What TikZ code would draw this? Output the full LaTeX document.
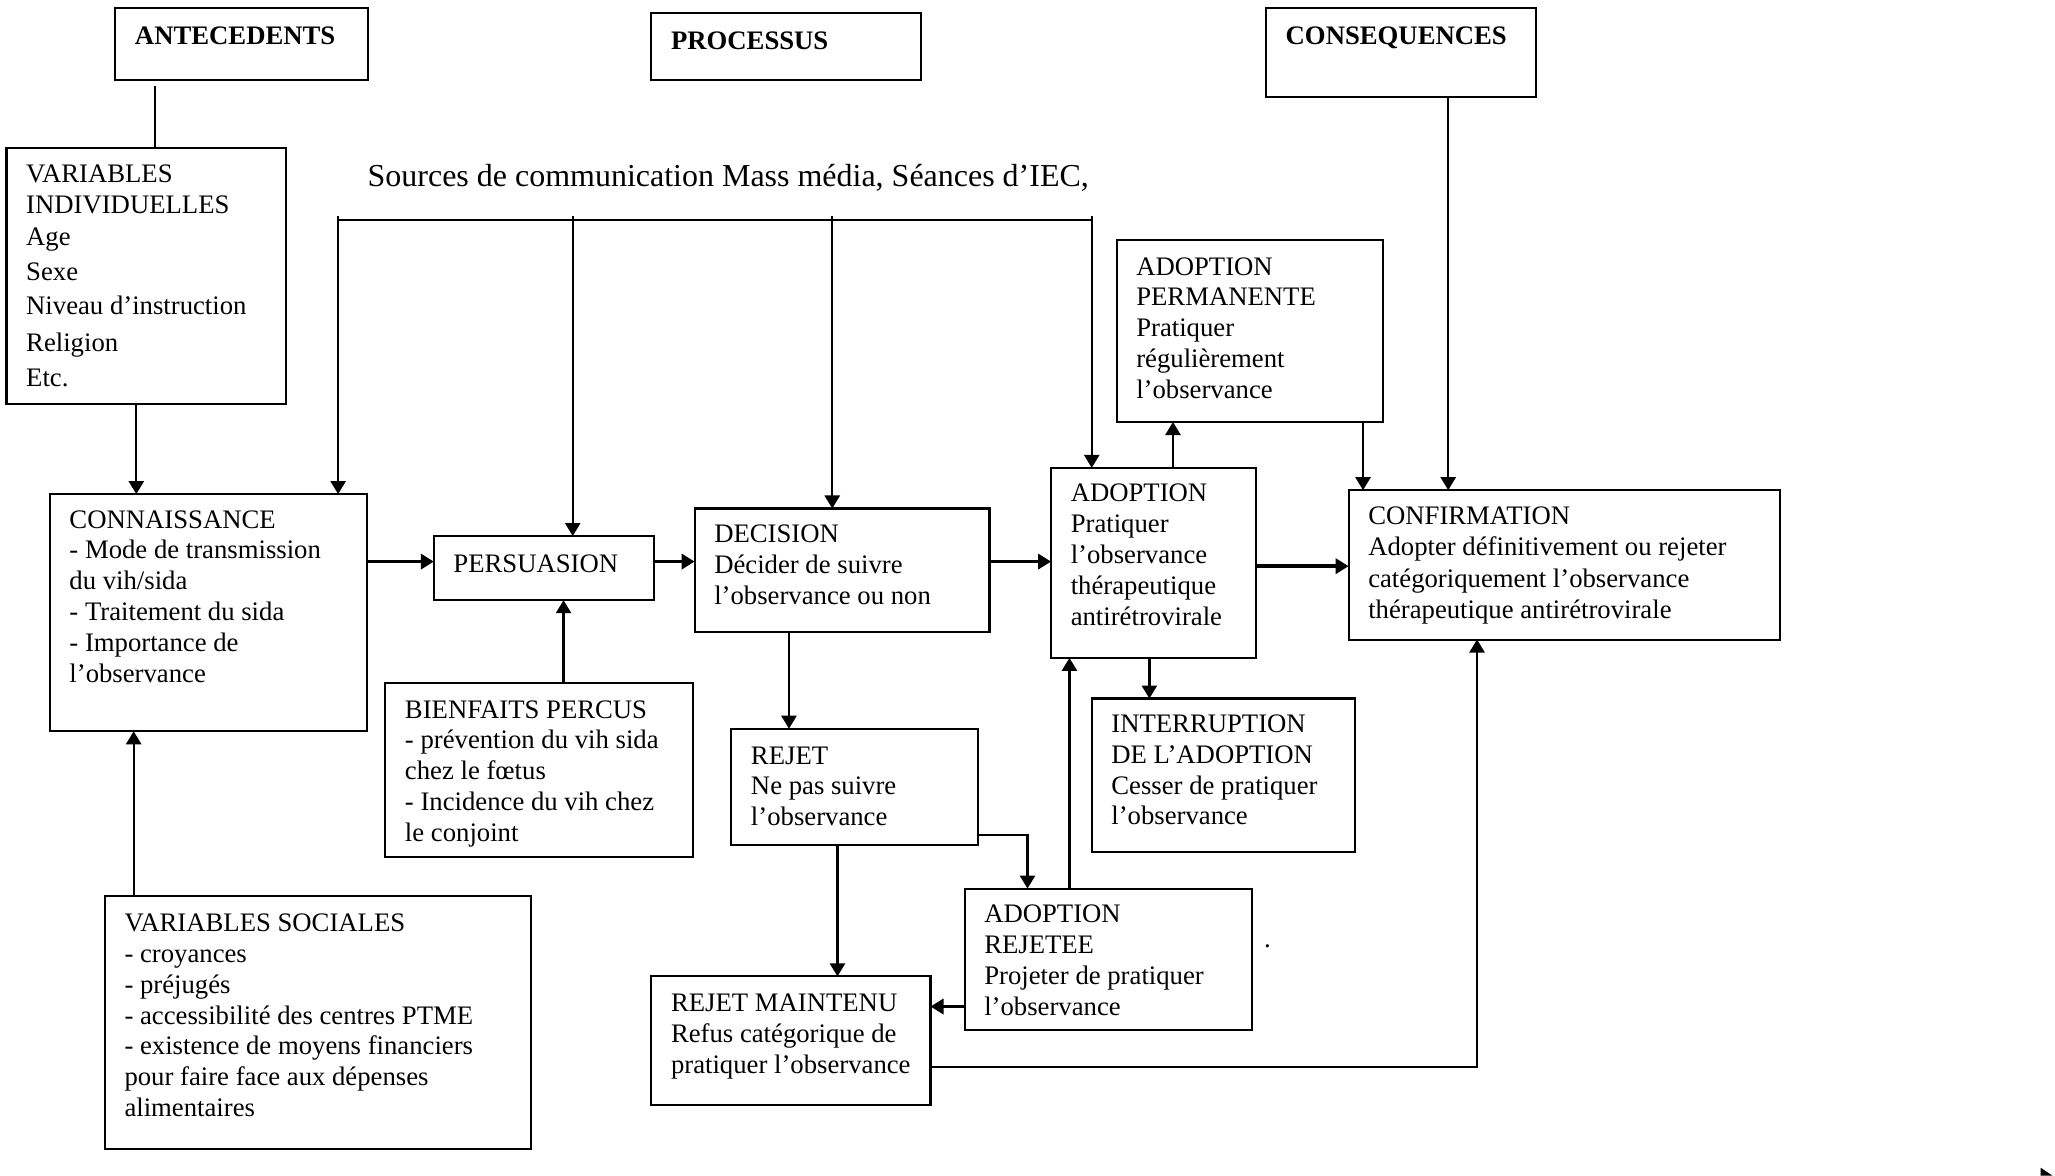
\documentclass[tikz,border=0pt]{standalone}
\usepackage{fontspec}
\setmainfont{Liberation Serif}
\usetikzlibrary{arrows.meta,calc}

% one drawing unit
\newlength\dx
\setlength\dx{0.013106cm}

% box contents: [first-baseline offset]{width}{height}{text}
\newcommand\inbox[4][26]{%
  \parbox[t][#3\dx][t]{\dimexpr #2\dx-30\dx\relax}{\raggedright\rule{0pt}{#1\dx}#4}}

\begin{document}
\begin{tikzpicture}[x=0.013106cm, y=-0.013106cm,
  bodyfont/.style={font=\fontsize{7.6}{8.76}\selectfont},
  panel/.style={draw, line width=0.6pt, anchor=north west, outer sep=0pt,
    inner xsep=15\dx, inner ysep=0pt, bodyfont},
  headpanel/.style={panel, font=\fontsize{7.6}{8.76}\selectfont\bfseries},
  plain/.style={line width=0.65pt},
  arr/.style={line width=0.65pt, -{Triangle[length=3.7pt,width=4.3pt]}},
  thk/.style={line width=0.95pt, -{Triangle[length=3.7pt,width=4.3pt]}}]

\useasboundingbox (0,0) rectangle (1568,897);

% headings
\node[headpanel] (ant)  at (88,6)  {\inbox[28]{193}{55}{ANTECEDENTS}};
\node[headpanel] (proc) at (497,10) {\inbox[28]{206}{51}{PROCESSUS}};
\node[headpanel] (cons) at (966,6) {\inbox[28]{206}{68}{CONSEQUENCES}};

% communication sources
\node[font=\fontsize{9.1}{11}\selectfont, anchor=base west, inner sep=0pt] (src)
  at (280,142.5) {Sources de communication Mass média, Séances d’IEC,};

% boxes
\node[panel, font=\fontsize{7.6}{8.95}\selectfont] (vi) at (5,113)
  {\inbox{213}{195}{VARIABLES\\INDIVIDUELLES\\Age\\[3\dx]Sexe\\[2\dx]Niveau d’instruction\\[4\dx]Religion\\[3\dx]Etc.}};
\node[panel] (conn) at (38,377)
  {\inbox{242}{181}{CONNAISSANCE\\- Mode de transmission\\du vih/sida\\- Traitement du sida\\- Importance de\\l’observance}};
\node[panel] (pers) at (331,409)
  {\inbox[28]{168}{49}{PERSUASION}};
\node[panel] (dec) at (530,388)
  {\inbox{225}{94}{DECISION\\Décider de suivre\\l’observance ou non}};
\node[panel] (adop) at (802,357)
  {\inbox{156}{145}{ADOPTION\\Pratiquer\\l’observance\\thérapeutique\\antirétrovirale}};
\node[panel] (perm) at (852,183)
  {\inbox[27]{203}{139}{ADOPTION\\PERMANENTE\\Pratiquer\\régulièrement\\l’observance}};
\node[panel, font=\fontsize{7.6}{8.95}\selectfont] (conf) at (1029,374)
  {\inbox{329}{114}{CONFIRMATION\\Adopter définitivement ou rejeter\\catégoriquement l’observance\\thérapeutique antirétrovirale}};
\node[panel] (bien) at (294,521)
  {\inbox[27]{235}{133}{BIENFAITS PERCUS\\- prévention du vih sida\\chez le fœtus\\- Incidence du vih chez\\le conjoint}};
\node[panel] (rej) at (558,556)
  {\inbox[27]{188}{89}{REJET\\Ne pas suivre\\l’observance}};
\node[panel] (int) at (833,533)
  {\inbox{201}{117}{INTERRUPTION\\DE L’ADOPTION\\Cesser de pratiquer\\l’observance}};
\node[panel] (ar) at (736,678)
  {\inbox{219}{108}{ADOPTION\\REJETEE\\Projeter de pratiquer\\l’observance}};
\node[panel] (rm) at (497,745)
  {\inbox[27]{213}{98}{REJET MAINTENU\\Refus catégorique de\\pratiquer~l’observance}};
\node[panel] (vs) at (80,684)
  {\inbox[27]{325}{193}{VARIABLES SOCIALES\\- croyances\\- préjugés\\- accessibilité des centres PTME\\- existence de moyens financiers\\pour faire face aux dépenses\\alimentaires}};

% stray full stop beside the rejected-adoption box
\node[bodyfont, anchor=base, inner sep=0pt] (dot) at (967,723) {.};

% connector anchor points
\coordinate (c1)  at ($(ant.south west)+(30,0)$);
\coordinate (c2)  at ($(vi.south west)+(99,0)$);
\coordinate (c4)  at ($(pers.west)+(0,-5)$);
\coordinate (c7)  at ($(adop.east)+(0,2.5)$);
\coordinate (c8)  at ($(bien.north west)+(136,0)$);
\coordinate (c9)  at ($(vs.north west)+(22,0)$);
\coordinate (c10) at ($(dec.south west)+(72,0)$);
\coordinate (c11) at ($(rej.south west)+(81,0)$);
\coordinate (c12) at ($(rej.south east)+(0,-8)$);
\coordinate (c12b) at ($(ar.north west)+(48,0)$);
\coordinate (c13) at ($(ar.north west)+(80,0)$);
\coordinate (c14) at ($(ar.south west)+(0,-18)$);
\coordinate (c15) at ($(rm.south east)+(0,-29)$);
\coordinate (c15b) at ($(conf.south west)+(98,0)$);
\coordinate (c16) at ($(adop.north west)+(93,0)$);
\coordinate (c17) at ($(adop.south west)+(75,0)$);
\coordinate (c18) at ($(perm.south west)+(188,0)$);
\coordinate (c19) at ($(cons.south west)+(139,0)$);

% sources bus
\coordinate (bus1) at (258,168);
\coordinate (bus2) at (437,168);
\coordinate (bus3) at (635,168);
\coordinate (bus4) at (833,168);
\draw[plain] (bus1) -- (bus4);
\draw[arr] ([yshift=3\dx]bus1) -- (bus1 |- conn.north);
\draw[arr] ([yshift=3\dx]bus2) -- (bus2 |- pers.north);
\draw[arr] ([yshift=3\dx]bus3) -- (bus3 |- dec.north);
\draw[arr] ([yshift=3\dx]bus4) -- (bus4 |- adop.north);

% connectors
\draw[plain] ([yshift=-5\dx]c1) -- (c1 |- vi.north);
\draw[arr] (c2) -- (c2 |- conn.north);
\draw[thk] (c4 -| conn.east) -- (c4);
\draw[thk] (c4 -| pers.east) -- (c4 -| dec.west);
\draw[thk] (c4 -| dec.east) -- (c4 -| adop.west);
\draw[thk] (c7) -- (c7 -| conf.west);
\draw[arr] (c8) -- (c8 |- pers.south);
\draw[arr] (c9) -- (c9 |- conn.south);
\draw[arr] (c10) -- (c10 |- rej.north);
\draw[arr] (c11) -- (c11 |- rm.north);
\draw[arr] (c12) -| (c12b);
\draw[arr] (c13) -- (c13 |- adop.south);
\draw[thk] (c14) -- (c14 -| rm.east);
\draw[arr] (c15) -| (c15b);
\draw[arr] (c16) -- (c16 |- perm.south);
\draw[arr] (c17) -- (c17 |- int.north);
\draw[arr] (c18) -- (c18 |- conf.north);
\draw[arr] (c19) -- (c19 |- conf.north);

% small pointer mark in the lower right corner
\fill (1557,891) -- (1566,897) -- (1557,897) -- cycle;
\end{tikzpicture}
\end{document}
